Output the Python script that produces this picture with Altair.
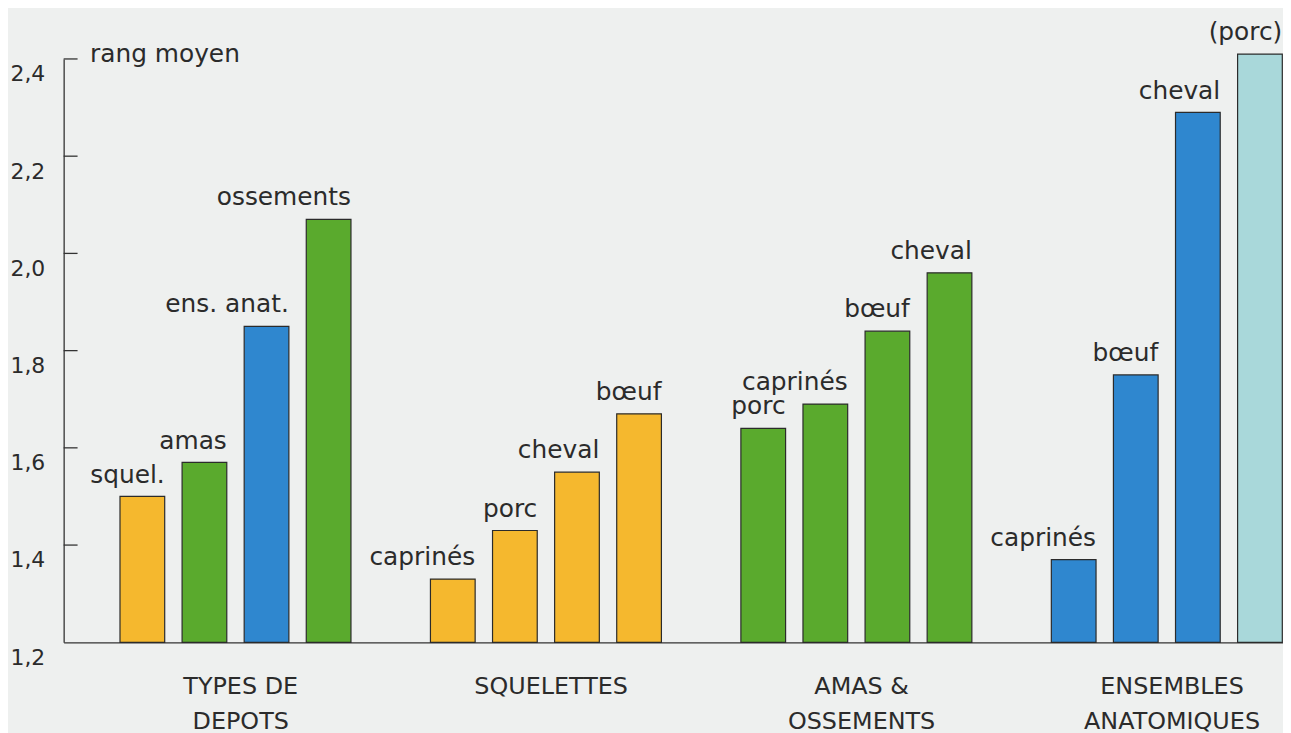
import altair as alt
import pandas as pd

# --- data ---
slot_ids = ["b0", "b1", "b2", "b3", "gap1",
            "b4", "b5", "b6", "b7", "gap2",
            "b8", "b9", "b10", "b11", "gap3",
            "b12", "b13", "b14", "b15"]
bar_ids = ["b0", "b1", "b2", "b3", "b4", "b5", "b6", "b7",
           "b8", "b9", "b10", "b11", "b12", "b13", "b14", "b15"]
bar_labels = ["squel.", "amas", "ens. anat.", "ossements",
              "caprinés", "porc", "cheval", "bœuf",
              "porc", "caprinés", "bœuf", "cheval",
              "caprinés", "bœuf", "cheval", "(porc)"]
rang_moyen = [1.50, 1.57, 1.85, 2.07,
              1.33, 1.43, 1.55, 1.67,
              1.64, 1.69, 1.84, 1.96,
              1.37, 1.75, 2.29, 2.41]
bar_kinds = ["squelettes", "amas", "ensembles", "amas",
             "squelettes", "squelettes", "squelettes", "squelettes",
             "amas", "amas", "amas", "amas",
             "ensembles", "ensembles", "ensembles", "ensembles (porc)"]
kind_names = ["squelettes", "amas", "ensembles", "ensembles (porc)"]
kind_colors = ["#f5b82e", "#5aaa2d", "#2f87cf", "#a9d8da"]

group_names = ["TYPES DE\nDEPOTS", "SQUELETTES", "AMAS &\nOSSEMENTS", "ENSEMBLES\nANATOMIQUES"]
group_anchor = ["b1", "b5", "b9", "b13"]

tick_values = [1.2, 1.4, 1.6, 1.8, 2.0, 2.2, 2.4]
inner_ticks = [1.4, 1.6, 1.8, 2.0, 2.2, 2.4]

df = pd.DataFrame({"slot": bar_ids, "label": bar_labels,
                   "valeur": rang_moyen, "type": bar_kinds})
gdf = pd.DataFrame({"slot": group_anchor, "groupe": group_names})
tdf = pd.DataFrame({"valeur": inner_ticks})

FONT = "DejaVu Sans"
INK = "#2b2b2b"

x_enc = alt.X("slot:N",
              scale=alt.Scale(domain=slot_ids, range=[0, 1283],
                              paddingInner=0.28, paddingOuter=0.9075),
              axis=alt.Axis(labels=False, ticks=False, title=None,
                            domainColor="#333333", domainWidth=1.3))
y_enc = alt.Y("valeur:Q",
              scale=alt.Scale(domain=[1.2, 2.4], nice=False, zero=False),
              axis=alt.Axis(values=tick_values,
                            labelExpr="replace(format(datum.value, '.1f'), '.', ',')",
                            tickSize=0, labelPadding=19, labelOffset=15,
                            labelFontSize=22, labelFont=FONT, labelColor=INK,
                            domainColor="#333333", domainWidth=1.3, grid=False,
                            title="rang moyen", titleAngle=0, titleX=26, titleY=3,
                            titleAlign="left", titleBaseline="alphabetic",
                            titleFontSize=25, titleFontWeight="normal",
                            titleFont=FONT, titleColor=INK))

bars = alt.Chart(df).mark_bar(stroke="#2b2b2b", strokeWidth=1.2).encode(
    x=x_enc,
    y=y_enc,
    y2=alt.datum(1.2),
    color=alt.Color("type:N", scale=alt.Scale(domain=kind_names, range=kind_colors),
                    legend=None),
)

ticks = alt.Chart(tdf).mark_rule(stroke="#333333", strokeWidth=1.3).encode(
    y=alt.Y("valeur:Q"),
    x=alt.value(0),
    x2=alt.value(14),
)

labels = alt.Chart(df).mark_text(align="right", baseline="alphabetic", dy=-14,
                                 fontSize=25, font=FONT, color=INK).encode(
    x=alt.X("slot:N", bandPosition=1),
    y=alt.Y("valeur:Q"),
    text="label:N",
)

groups = alt.Chart(gdf).mark_text(align="center", baseline="alphabetic", dy=52, dx=14,
                                  lineBreak="\n", lineHeight=35,
                                  fontSize=24, font=FONT, color=INK).encode(
    x=alt.X("slot:N", bandPosition=1),
    y=alt.datum(1.2),
    text="groupe:N",
)

chart = alt.layer(bars, ticks, labels, groups).properties(
    width=1227, height=587,
    autosize=alt.AutoSizeParams(type="none"),
    padding={"left": 56, "top": 49, "right": 0, "bottom": 89},
    background="#eef0ef",
).configure_view(stroke=None)

chart.save("out.html", embed_options={"renderer": "svg", "actions": False})
